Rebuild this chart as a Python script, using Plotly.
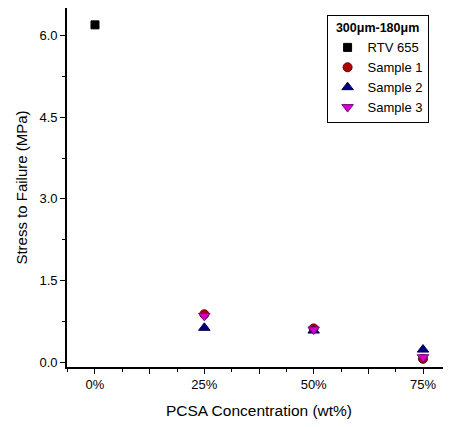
import plotly.graph_objects as go

# Data
concentrations = [0, 25, 50, 75]          # PCSA wt%
rtv655 = [6.20]                           # at 0%
rtv_x = [0]
sample1 = [0.88, 0.62, 0.06]              # at 25, 50, 75
sample2 = [0.63, 0.58, 0.23]
sample3 = [0.85, 0.60, 0.09]
sample_x = [25, 50, 75]
x_tickvals = [0, 12.5, 25, 37.5, 50, 62.5, 75]
x_ticktext = ["0%", "", "25%", "", "50%", "", "75%"]
y_tickvals = [0, 1.5, 3.0, 4.5, 6.0]
y_ticktext = ["0.0", "1.5", "3.0", "4.5", "6.0"]

FONT = "Liberation Sans, Arial, sans-serif"

fig = go.Figure()
fig.add_trace(go.Scatter(x=rtv_x, y=rtv655, mode="markers", name="RTV 655",
                         marker=dict(symbol="square", size=8, color="black",
                                     line=dict(color="black", width=1))))
fig.add_trace(go.Scatter(x=sample_x, y=sample1, mode="markers", name="Sample 1",
                         marker=dict(symbol="circle", size=9, color="#b00000",
                                     line=dict(color="#6a0000", width=1))))
fig.add_trace(go.Scatter(x=sample_x, y=sample2, mode="markers", name="Sample 2",
                         marker=dict(symbol="triangle-up", size=10, color="#000080",
                                     line=dict(color="#000050", width=1))))
fig.add_trace(go.Scatter(x=sample_x, y=sample3, mode="markers", name="Sample 3",
                         marker=dict(symbol="triangle-down", size=10, color="#d000d0",
                                     line=dict(color="#800080", width=1))))

fig.update_layout(
    width=443, height=419,
    margin=dict(l=59, r=0, t=0, b=60),
    paper_bgcolor="white", plot_bgcolor="white",
    font=dict(family=FONT, color="black", size=13),
    showlegend=True,
    legend=dict(
        x=0.676, y=0.98, xanchor="left", yanchor="top",
        bordercolor="black", borderwidth=1, bgcolor="white",
        font=dict(size=13, family=FONT, color="black"),
        title=dict(text="<b>300μm-180μm</b>", font=dict(size=12.5, family=FONT), side="top center"),
        tracegroupgap=0, itemsizing="trace",
    ),
    xaxis=dict(
        range=[-6.4, 81.4],
        tickmode="array", tickvals=x_tickvals, ticktext=x_ticktext,
        ticks="outside", ticklen=5, tickwidth=1.3, tickcolor="black",
        minor=dict(ticks="outside", ticklen=3, tickwidth=1.3, tickcolor="black",
                   tick0=0, dtick=6.25),
        showline=True, linecolor="black", linewidth=1.6,
        showgrid=False, zeroline=False,
        tickfont=dict(size=13, family=FONT),
        title=dict(text="PCSA Concentration (wt%)", font=dict(size=15.5, family=FONT), standoff=14),
    ),
    yaxis=dict(
        range=[-0.09, 6.51],
        tickmode="array", tickvals=y_tickvals, ticktext=y_ticktext,
        ticks="outside", ticklen=5, tickwidth=1.3, tickcolor="black",
        minor=dict(ticks="outside", ticklen=3, tickwidth=1.3, tickcolor="black",
                   tick0=0, dtick=0.75),
        showline=True, linecolor="black", linewidth=1.6,
        showgrid=False, zeroline=False,
        tickfont=dict(size=13, family=FONT),
        title=dict(text="Stress to Failure (MPa)", font=dict(size=15, family=FONT), standoff=8),
    ),
)

fig.write_html("out.html")
